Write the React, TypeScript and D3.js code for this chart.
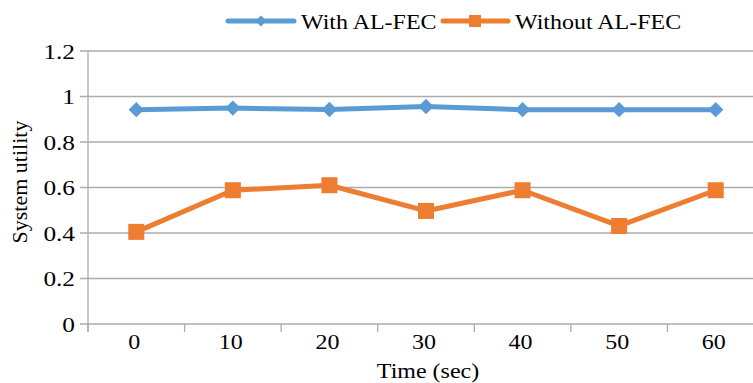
import React from "react";
import * as d3 from "d3";

const categories = ["0", "10", "20", "30", "40", "50", "60"];
const withFec = [0.942, 0.949, 0.943, 0.956, 0.942, 0.942, 0.942];
const withoutFec = [0.405, 0.588, 0.61, 0.497, 0.588, 0.431, 0.588];
const yTicks = [0, 0.2, 0.4, 0.6, 0.8, 1, 1.2];
const yTickLabels = ["0", "0.2", "0.4", "0.6", "0.8", "1", "1.2"];
const seriesNames = ["With AL-FEC", "Without AL-FEC"];

const W = 753;
const H = 383;
const left = 88;
const right = 764;
const top = 51;
const bottom = 324;
const BLUE = "#5B9BD5";
const ORANGE = "#ED7D31";
const GRID = "#ABABAB";
const FONT = "Liberation Serif, Tinos, DejaVu Serif, serif";
const SX = 1.09;

function HText(props: { x: number; y: number; anchor?: string; sx?: number; children: React.ReactNode }) {
  return (
    <text
      transform={`translate(${props.x},${props.y}) scale(${props.sx || SX},1)`}
      textAnchor={props.anchor || "start"}
      style={{ fontFamily: FONT, fontSize: "22px" }}
      fill="#000"
    >
      {props.children}
    </text>
  );
}

export default function App() {
  const x = d3.scaleBand<string>().domain(categories).range([left, right]).padding(0);
  const y = d3.scaleLinear().domain([0, 1.2]).range([bottom, top]);
  const cx = (c: string) => (x(c) as number) + x.bandwidth() / 2;
  const line = d3
    .line<number>()
    .x((_, i) => cx(categories[i]))
    .y((d) => y(d));
  const edges = d3.range(categories.length + 1).map((i) => left + i * x.bandwidth());
  const diamond = d3.symbol().type(d3.symbolDiamond2).size(150)();
  const legendDiamond = d3.symbol().type(d3.symbolDiamond2).size(80)();

  return (
    <svg
      width={W}
      height={H}
      style={{ position: "absolute", left: 0, top: 0, display: "block", background: "#fff" }}
    >
      {/* gridlines */}
      {yTicks.map((t, i) => (
        <g key={"g" + i}>
          <line x1={left - 8} x2={right} y1={y(t)} y2={y(t)} stroke={GRID} strokeWidth={1.3} />
          <HText x={75} y={y(t) + 7.5} anchor="end" sx={1.15}>
            {yTickLabels[i]}
          </HText>
        </g>
      ))}
      {/* y axis */}
      <line x1={left} x2={left} y1={top} y2={bottom + 8} stroke={GRID} strokeWidth={1.3} />
      {/* x tick marks */}
      {edges.map((e, i) => (
        <line key={"t" + i} x1={e} x2={e} y1={bottom} y2={bottom + 8} stroke={GRID} strokeWidth={1.3} />
      ))}
      {categories.map((c) => (
        <HText key={"xl" + c} x={cx(c) - 2} y={349} anchor="middle">
          {c}
        </HText>
      ))}
      <HText x={(left + right) / 2 + 2} y={378} anchor="middle">
        Time (sec)
      </HText>
      <text
        transform={`translate(27, 182) rotate(-90)`}
        textAnchor="middle"
        style={{ fontFamily: FONT, fontSize: "22px" }}
        fill="#000"
      >
        System utility
      </text>

      {/* series */}
      <path d={line(withFec) || ""} fill="none" stroke={BLUE} strokeWidth={5} strokeLinejoin="round" />
      {withFec.map((v, i) => (
        <path key={"d" + i} d={diamond || ""} transform={`translate(${cx(categories[i])},${y(v)})`} fill={BLUE} />
      ))}
      <path d={line(withoutFec) || ""} fill="none" stroke={ORANGE} strokeWidth={5} strokeLinejoin="round" />
      {withoutFec.map((v, i) => (
        <rect key={"s" + i} x={cx(categories[i]) - 8} y={y(v) - 8} width={16} height={16} fill={ORANGE} />
      ))}

      {/* legend */}
      <line x1={228} x2={294} y1={21} y2={21} stroke={BLUE} strokeWidth={5} strokeLinecap="round" />
      <path d={legendDiamond || ""} transform="translate(261,21)" fill={BLUE} />
      <HText x={301} y={28.5}>{seriesNames[0]}</HText>
      <line x1={443} x2={508} y1={21} y2={21} stroke={ORANGE} strokeWidth={5} strokeLinecap="round" />
      <rect x={469} y={15} width={12} height={12} fill={ORANGE} />
      <HText x={515} y={28.5}>{seriesNames[1]}</HText>
    </svg>
  );
}
